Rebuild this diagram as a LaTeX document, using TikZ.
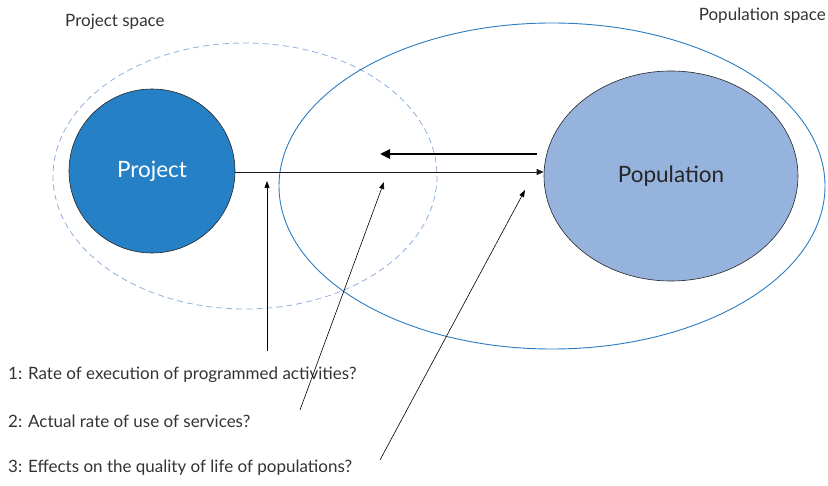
\documentclass[tikz,border=0pt]{standalone}
\usepackage{fontspec}
\setmainfont{Lato}
\usetikzlibrary{arrows.meta,shapes.geometric}
\definecolor{projblue}{HTML}{2680C6}
\definecolor{popfill}{HTML}{95B3DD}
\definecolor{spaceblue}{HTML}{2B7CC2}
\definecolor{dashblue}{HTML}{8FB0DE}
\definecolor{txt}{HTML}{333333}
\begin{document}
\begin{tikzpicture}[x=1pt,y=-1pt,
  lbl/.style={font=\fontsize{17}{20}\selectfont\color{txt}, anchor=west, inner sep=0},
  arr/.style={-{Triangle[length=7pt,width=6pt]}, line width=0.6pt, draw=black!90},
  q/.style={-{Triangle[length=7pt,width=5pt]}, line width=0.6pt}]
\useasboundingbox (0,0) rectangle (828,486);
\draw[dashblue, dashed, dash pattern=on 6pt off 4pt, line width=0.8pt] (245,176) ellipse [x radius=192, y radius=133];
\draw[spaceblue, line width=0.9pt] (552,186) ellipse [x radius=273, y radius=163];
\node[ellipse,draw=black!85,fill=projblue,minimum width=166,minimum height=164,inner sep=0,line width=0.6pt,font=\fontsize{22.5}{26}\selectfont\color{white}] (proj) at (152,171) {Project};
\node[ellipse,draw=black!85,fill=popfill,minimum width=254,minimum height=210,inner sep=0,line width=0.6pt,font=\fontsize{22.5}{26}\selectfont\color{black!85}] (pop) at (671,176) {Population};
\draw[arr] (proj.east |- 0,172) -- (pop.west |- 0,172);
\coordinate (ta) at (537,154);
\coordinate (tb) at (380,154);
\draw[-{Triangle[length=10pt,width=9pt]}, line width=2.4pt] (ta) -- (tb);
\node[lbl] (t1) at (8,375) {1: Rate of execution of programmed activities?};
\node[lbl] (t2) at (8,421) {2: Actual rate of use of services?};
\node[lbl] (t3) at (8,468) {3: Effects on the quality of life of populations?};
\coordinate (a1s) at (267,351); \coordinate (a1e) at (267,181);
\coordinate (a2s) at (300,410); \coordinate (a2e) at (384,182);
\coordinate (a3s) at (380,460); \coordinate (a3e) at (525,190);
\draw[q] (a1s) -- (a1e);
\draw[q] (a2s) -- (a2e);
\draw[q] (a3s) -- (a3e);
\node[lbl] (ps) at (65,22) {Project space};
\node[lbl, anchor=east] (pps) at (826,16) {Population space};
\end{tikzpicture}
\end{document}
